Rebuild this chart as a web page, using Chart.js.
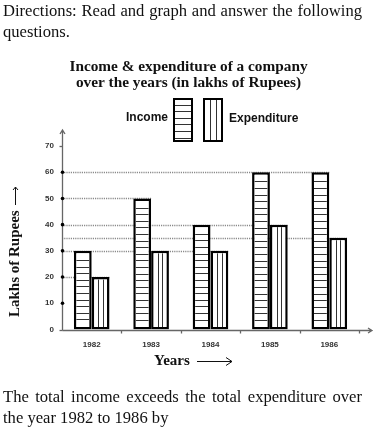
<!DOCTYPE html>
<html>
<head>
<meta charset="utf-8">
<script src="https://cdn.jsdelivr.net/npm/chart.js@4.4.0/dist/chart.umd.min.js"></script>
<style>
html, body { margin: 0; padding: 0; background: #fff; }
#wrap { position: relative; width: 379px; height: 430px; overflow: hidden; }
canvas { position: absolute; left: 0; top: 0; }
.txt { position: absolute; left: 3px; font-family: "Liberation Serif", serif; font-size: 16.6px; line-height: 21px; color: #111; white-space: nowrap; }
.full { width: 359px; text-align: justify; text-align-last: justify; white-space: normal; }
</style>
</head>
<body>
<div id="wrap">
  <canvas id="myChart" width="379" height="430"></canvas>
  <div class="txt full" style="top:0">Directions: Read and graph and answer the following</div>
  <div class="txt" style="top:21px">questions.</div>
  <div class="txt full" style="top:386px">The total income exceeds the total expenditure over</div>
  <div class="txt" style="top:407px">the year 1982 to 1986 by</div>
</div>
<script>
// data (lakhs of Rupees)
var years = ['1982', '1983', '1984', '1985', '1986'];
var income = [30, 50, 40, 60, 60];
var expenditure = [20, 30, 30, 40, 35];
var yMax = 70;
var yStep = 10;

var BORDER = 2.5;

// stripes inside a rectangle: 'h' = horizontal lines, 'v' = vertical lines
function stripes(ctx, l, t, r, b, kind) {
    ctx.save();
    ctx.strokeStyle = '#333';
    ctx.lineWidth = 1;
    ctx.beginPath();
    if (kind === 'h') {
        for (var yy = t + 6.6; yy < b - 2; yy += 6.6) {
            var py = Math.round(yy) + 0.5;
            ctx.moveTo(l, py); ctx.lineTo(r, py);
        }
    } else {
        var w = r - l;
        for (var k = 1; k < 3; k++) {
            var px = Math.round(l + w * k / 3) + 0.5;
            ctx.moveTo(px, t); ctx.lineTo(px, b);
        }
    }
    ctx.stroke();
    ctx.restore();
}

var decor = {
    id: 'decor',
    beforeDatasetsDraw: function (chart) {
        var ctx = chart.ctx, y = chart.scales.y, area = chart.chartArea;

        // dotted lines from the axis to the rightmost bar with that height
        var levels = {};
        chart.data.datasets.forEach(function (ds, di) {
            var meta = chart.getDatasetMeta(di);
            ds.data.forEach(function (v, i) {
                var bar = meta.data[i];
                var right = bar.x + bar.width / 2;
                if (!levels[v] || levels[v] < right) levels[v] = right;
            });
        });
        ctx.save();
        ctx.strokeStyle = '#8a8a8a';
        ctx.lineWidth = 1.3;
        ctx.setLineDash([1.2, 1]);
        Object.keys(levels).forEach(function (v) {
            var py = Math.round(y.getPixelForValue(+v)) + 0.5;
            ctx.beginPath();
            ctx.moveTo(area.left, py);
            ctx.lineTo(levels[v], py);
            ctx.stroke();
        });
        ctx.restore();

        // axes with arrows
        ctx.save();
        ctx.strokeStyle = '#666';
        ctx.lineWidth = 1.3;
        var ax = Math.round(area.left) + 0.5;
        var ay = Math.round(area.bottom) + 0.5;
        ctx.beginPath();
        ctx.moveTo(ax, ay); ctx.lineTo(ax, 130);
        ctx.moveTo(ax - 2.5, 134); ctx.lineTo(ax, 130); ctx.lineTo(ax + 2.5, 134);
        ctx.moveTo(ax, ay); ctx.lineTo(372, ay);
        ctx.moveTo(368, ay - 2.5); ctx.lineTo(372, ay); ctx.lineTo(368, ay + 2.5);
        // small ticks between categories
        for (var i = 1; i <= years.length; i++) {
            var bx = Math.round(area.left + i * area.width / years.length) + 0.5;
            ctx.moveTo(bx, ay); ctx.lineTo(bx, ay + 3);
        }
        ctx.stroke();

        // dots on the y axis
        y.ticks.forEach(function (t) {
            var py = y.getPixelForValue(t.value);
            if (t.value === 0 || t.value === yMax) {
                ctx.beginPath();
                ctx.moveTo(ax - 3, Math.round(py) + 0.5);
                ctx.lineTo(ax, Math.round(py) + 0.5);
                ctx.stroke();
            } else {
                ctx.fillStyle = '#000';
                ctx.beginPath();
                ctx.arc(ax, py, 1.8, 0, Math.PI * 2);
                ctx.fill();
            }
        });
        ctx.restore();
    },
    afterDatasetsDraw: function (chart) {
        var ctx = chart.ctx;
        chart.data.datasets.forEach(function (ds, di) {
            var meta = chart.getDatasetMeta(di);
            meta.data.forEach(function (bar) {
                var l = bar.x - bar.width / 2 + BORDER;
                var r = bar.x + bar.width / 2 - BORDER;
                var t = bar.y + BORDER;
                var b = bar.base - BORDER;
                stripes(ctx, l, t, r, b, di === 0 ? 'h' : 'v');
            });
        });
    },
    afterDraw: function (chart) {
        var ctx = chart.ctx;
        ctx.save();
        ctx.fillStyle = '#111';
        ctx.textBaseline = 'middle';

        // title
        ctx.textAlign = 'center';
        ctx.font = 'bold 15.3px "Liberation Serif"';
        ctx.fillText('Income & expenditure of a company', 188.5, 67);
        ctx.fillText('over the years (in lakhs of Rupees)', 188.5, 83);

        // legend
        ctx.font = 'bold 12px "Liberation Sans"';
        ctx.textAlign = 'right';
        ctx.fillText('Income', 168, 118);
        ctx.textAlign = 'left';
        ctx.fillText('Expenditure', 229, 119);
        ctx.fillStyle = '#fff';
        ctx.fillRect(173, 98, 20, 44);
        ctx.fillRect(203, 98, 20, 44);
        stripes(ctx, 175, 98, 191, 140, 'h');
        stripes(ctx, 205, 100, 221, 140, 'v');
        ctx.strokeStyle = '#000';
        ctx.lineWidth = 2;
        ctx.strokeRect(174, 99, 18, 42);
        ctx.strokeRect(204, 99, 18, 42);

        // x axis title
        ctx.fillStyle = '#111';
        ctx.font = 'bold 15px "Liberation Serif"';
        ctx.fillText('Years', 154, 361);
        ctx.strokeStyle = '#111';
        ctx.lineWidth = 1;
        ctx.beginPath();
        ctx.moveTo(197, 361.5); ctx.lineTo(232, 361.5);
        ctx.moveTo(226, 357.5); ctx.lineTo(232, 361.5); ctx.lineTo(226, 365.5);
        ctx.stroke();

        // y axis title
        ctx.translate(15, 250);
        ctx.rotate(-Math.PI / 2);
        ctx.textAlign = 'left';
        ctx.fillText('Lakhs of Rupees', -67, 0);
        ctx.beginPath();
        ctx.moveTo(45, 0.5); ctx.lineTo(63, 0.5);
        ctx.moveTo(60, -2); ctx.lineTo(63, 0.5); ctx.lineTo(60, 3);
        ctx.stroke();
        ctx.restore();
    }
};

var ctx = document.getElementById('myChart').getContext('2d');
var chart = new Chart(ctx, {
    type: 'bar',
    data: {
        labels: years,
        datasets: [{
            label: 'Income',
            data: income,
            backgroundColor: '#fff',
            borderColor: '#000',
            borderWidth: BORDER,
            borderSkipped: false
        }, {
            label: 'Expenditure',
            data: expenditure,
            backgroundColor: '#fff',
            borderColor: '#000',
            borderWidth: BORDER,
            borderSkipped: false
        }]
    },
    options: {
        responsive: false,
        animation: false,
        devicePixelRatio: 1,
        layout: { padding: { left: 0, right: 20, top: 146, bottom: 0 } },
        categoryPercentage: 0.6,
        barPercentage: 1,
        plugins: {
            legend: { display: false },
            title: { display: false },
            tooltip: { enabled: false }
        },
        scales: {
            x: {
                grid: { display: false, drawTicks: false },
                border: { display: false },
                ticks: {
                    color: '#333',
                    padding: 10,
                    font: { family: 'Liberation Sans', size: 8, weight: 'bold' }
                },
                afterFit: function (scale) { scale.height = 100.5; }
            },
            y: {
                min: 0,
                max: yMax,
                grid: { display: false, drawTicks: false },
                border: { display: false },
                ticks: {
                    stepSize: yStep,
                    color: '#333',
                    padding: 8,
                    font: { family: 'Liberation Sans', size: 8, weight: 'bold' }
                },
                afterFit: function (scale) { scale.width = 62; }
            }
        }
    },
    plugins: [decor]
});
</script>
</body>
</html>
